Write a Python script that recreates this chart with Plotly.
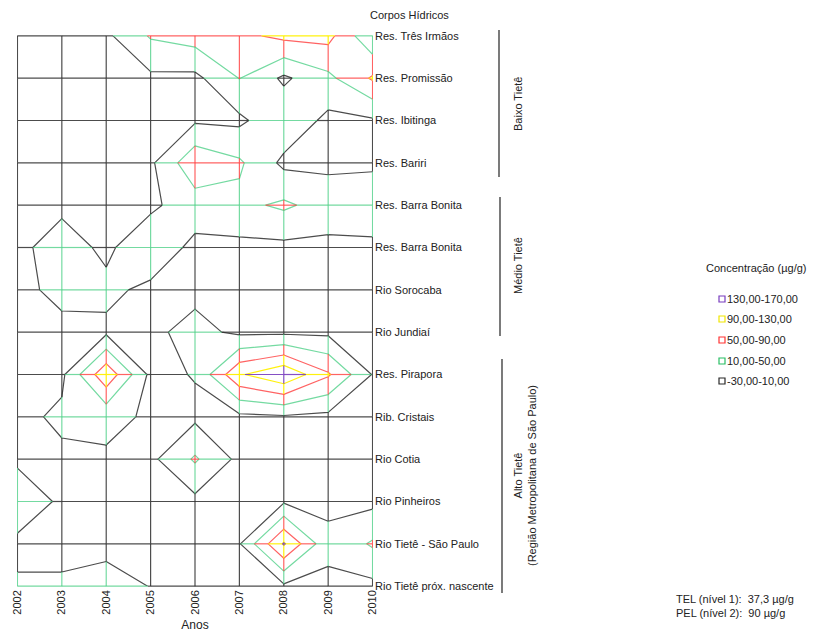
import plotly.graph_objects as go

# ---------------- data ----------------
years = [2002, 2003, 2004, 2005, 2006, 2007, 2008, 2009, 2010]
bodies = ["Res. Três Irmãos", "Res. Promissão", "Res. Ibitinga", "Res. Bariri",
          "Res. Barra Bonita", "Res. Barra Bonita", "Rio Sorocaba", "Rio Jundiaí",
          "Res. Pirapora", "Rib. Cristais", "Rio Cotia", "Rio Pinheiros",
          "Rio Tietê - São Paulo", "Rio Tietê próx. nascente"]

tres_irmaos   = [2, 2, 2, 54, 68, 80, 100, 103, 15]
promissao     = [1, 1, 2, 2, 0, 51, 3, 40, 95]
ibitinga      = [2, 2, 2, 2, 5, 2, 40, 0, 5]
bariri        = [3, 3, 3, 3, 80, 56, 1, 1, 2]
barra_bonita1 = [3, 3, 3, 3, 30, 40, 57, 33, 40]
barra_bonita2 = [2, 25, 3, 36, 0, 0, 0, 0, 0]
sorocaba      = [0, 20, 18, 2, 0, 0, 0, 0, 0]
jundiai       = [0, 0, 3, 2, 22, 2, 2, 2, 2]
pirapora      = [0, 2, 120, 0, 12, 125, 165, 95, 8]
cristais      = [0, 17, 20, 5, 2, 1, 5, 0, 0]
cotia         = [2, 3, 5, 1, 55, 0, 0, 0, 0]
pinheiros     = [40, 2, 0, 0, 0, 0, 5, 3, 0]
tiete_sp      = [0, 0, 0, 0, 0, 7, 135, 18, 55]
tiete_nasc    = [15, 15, 24, 9, 0, 0, 3, 3, 0]

z = [tres_irmaos, promissao, ibitinga, bariri, barra_bonita1, barra_bonita2,
     sorocaba, jundiai, pirapora, cristais, cotia, pinheiros, tiete_sp, tiete_nasc]

levels = [10, 50, 90, 130]
band_labels = ["130,00-170,00", "90,00-130,00", "50,00-90,00", "10,00-50,00", "-30,00-10,00"]

# ---------------- styles ----------------
BLACK = "rgba(45,45,45,0.85)"
GREEN = "rgba(70,205,130,0.75)"
RED = "rgba(255,60,60,0.8)"
YELLOW = "rgba(255,240,0,0.95)"
PURPLE = "rgba(120,60,190,0.9)"
band_colors = [BLACK, GREEN, RED, YELLOW, PURPLE]   # by ascending band
level_colors = [BLACK, GREEN, RED, YELLOW]          # line drawn at each level
legend_cols = ["rgb(120,60,190)", "rgb(240,230,0)", "rgb(255,50,50)",
               "rgb(40,190,100)", "rgb(40,40,40)"]
FONT = "Liberation Sans, Arial, sans-serif"
TXT = "#222222"

rows = list(range(len(bodies)))

def band_of(v):
    return sum(1 for L in levels if v >= L)

# mesh: grid lines coloured by concentration band along the grid
mesh = {b: ([], []) for b in range(5)}

def add_segment(xa, ya, va, xb, yb, vb):
    ts = [0.0]
    for L in levels:
        if (va - L) * (vb - L) < 0:
            ts.append((L - va) / (vb - va))
    ts.append(1.0)
    ts.sort()
    for t0, t1 in zip(ts[:-1], ts[1:]):
        vm = va + (vb - va) * (t0 + t1) / 2
        b = band_of(vm)
        xs, ys = mesh[b]
        xs += [xa + (xb - xa) * t0, xa + (xb - xa) * t1, None]
        ys += [ya + (yb - ya) * t0, ya + (yb - ya) * t1, None]

for r in rows:
    for c in range(len(years) - 1):
        add_segment(years[c], r, z[r][c], years[c + 1], r, z[r][c + 1])
for c in range(len(years)):
    for r in rows[:-1]:
        add_segment(years[c], r, z[r][c], years[c], r + 1, z[r + 1][c])

fig = go.Figure()
for b in range(5):
    xs, ys = mesh[b]
    fig.add_trace(go.Scatter(x=xs, y=ys, mode="lines", showlegend=False,
                             hoverinfo="skip",
                             line=dict(color=band_colors[b], width=1.2)))

for L, col in zip(levels, level_colors):
    fig.add_trace(go.Contour(
        x=years, y=rows, z=z, showscale=False, hoverinfo="skip",
        autocontour=False,
        contours=dict(start=L, end=L, size=40, coloring="none"),
        line=dict(color=col, width=1.2, smoothing=0),
    ))

# ---------------- layout ----------------
# page body adds an 8px offset; targets below are screen pixels
OFF = 8
L_PX, R_PX, T_PX, B_PX = 17, 373, 35, 587
W, H = 817 - OFF, 633 - OFF
def xp(px):
    return (px - L_PX) / (R_PX - L_PX)
def yp(py):
    return (B_PX - py) / (B_PX - T_PX)

def note(text, x, y, **kw):
    d = dict(text=text, x=xp(x), y=yp(y), xref="paper", yref="paper",
             xanchor="center", yanchor="middle",
             showarrow=False, font=dict(size=11, color=TXT))
    d.update(kw)
    return d

annotations = [
    note("Corpos Hídricos", 409, 15),
    note("Baixo Tietê", 518, 104, textangle=-90),
    note("Médio Tietê", 518, 266, textangle=-90),
    note("Alto Tietê<br>(Região Metropolitana de São Paulo)", 525, 476, textangle=-90),
    note("Concentração (µg/g)", 756, 268),
    note("TEL (nível 1):  37,3 µg/g<br>PEL (nível 2):  90 µg/g", 674, 606,
         xanchor="left", align="left"),
]
shapes = [
    dict(type="line", xref="paper", yref="paper", x0=xp(499), x1=xp(499), y0=yp(30), y1=yp(177),
         line=dict(color="#333", width=1.3)),
    dict(type="line", xref="paper", yref="paper", x0=xp(500), x1=xp(500), y0=yp(197), y1=yp(336),
         line=dict(color="#333", width=1.3)),
    dict(type="line", xref="paper", yref="paper", x0=xp(502), x1=xp(502), y0=yp(359), y1=yp(593),
         line=dict(color="#333", width=1.3)),
]
legend_y = [299, 319, 340, 361, 381]
for lab, col, ly in zip(band_labels, legend_cols, legend_y):
    annotations.append(note(lab, 725, ly, xanchor="left"))
    shapes.append(dict(type="rect", xref="paper", yref="paper", xsizemode="pixel",
                       ysizemode="pixel", xanchor=xp(722), yanchor=yp(ly),
                       x0=-3, x1=3, y0=-3, y1=3, line=dict(color=col, width=1.2)))

fig.update_layout(
    width=W, height=H,
    margin=dict(l=L_PX - OFF, r=W - (R_PX - OFF), t=T_PX - OFF, b=H - (B_PX - OFF),
                autoexpand=False),
    paper_bgcolor="white", plot_bgcolor="white",
    font=dict(family=FONT, size=11, color=TXT),
    showlegend=False,
    annotations=annotations, shapes=shapes,
    xaxis=dict(range=[2001.99, 2010.01], tickvals=years, ticktext=[str(y) for y in years],
               tickangle=-90, showgrid=False, zeroline=False, showline=False, ticks="",
               automargin=False,
               tickfont=dict(size=11, color=TXT),
               title=dict(text="Anos", font=dict(size=12, color=TXT), standoff=6)),
    yaxis=dict(range=[13.02, -0.02], tickvals=rows, ticktext=bodies, side="right",
               showgrid=False, zeroline=False, showline=False, ticks="",
               automargin=False, ticklabelstandoff=1,
               tickfont=dict(size=11, color=TXT)),
)

fig.write_html("out.html")
